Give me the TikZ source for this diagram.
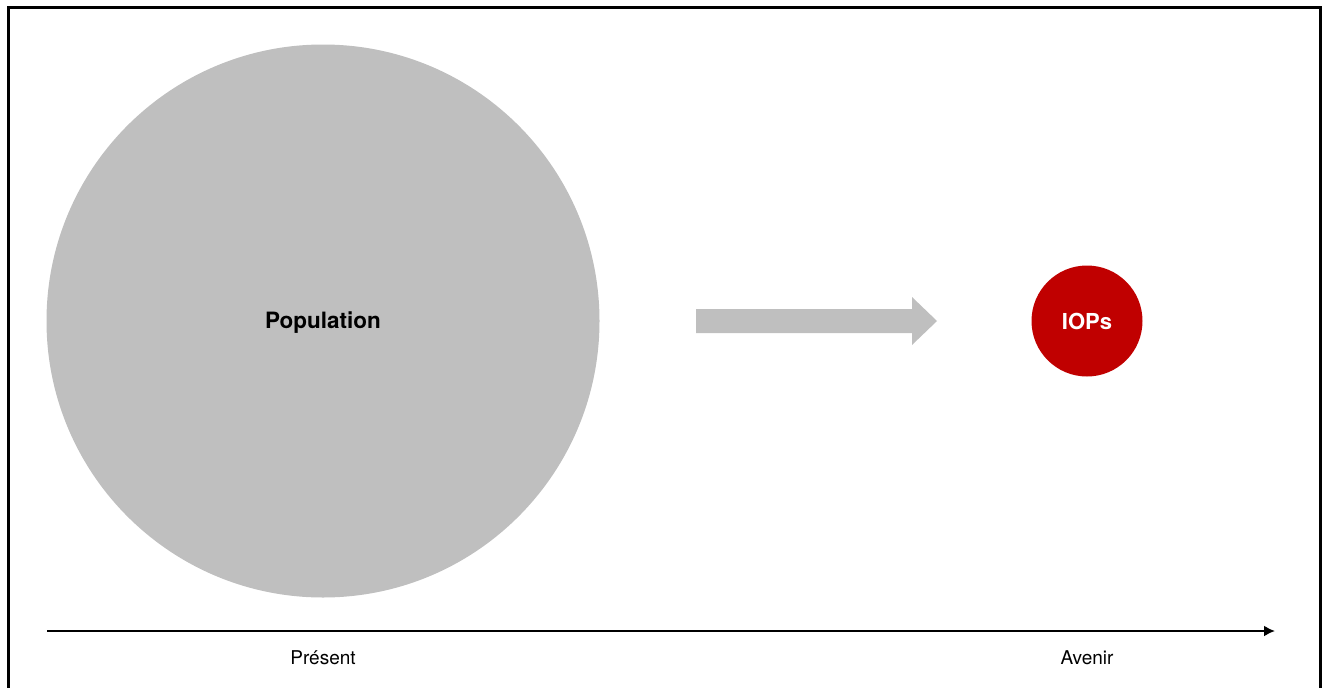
\documentclass[tikz,border=0pt]{standalone}
\usepackage{fontspec}
\setmainfont{TeX Gyre Heros}
\usepackage{xcolor}
\usetikzlibrary{arrows.meta}
\definecolor{popgray}{HTML}{BFBFBF}
\definecolor{iopred}{HTML}{C00000}

\begin{document}
\begin{tikzpicture}[x=1pt, y=-1pt,
  blob/.style={circle, inner sep=0pt},
  timelabel/.style={anchor=base, font=\fontsize{19}{22}\selectfont}]
\useasboundingbox (0,0) rectangle (1323,688);
%\draw [help lines] (0,0) grid (1323,688);
\draw [line width=3pt] (8.5,700) -- (8.5,7.5) -- (1320.5,7.5) -- (1320.5,700);
\node [blob, fill=popgray, minimum size=553pt] (pop) at (323,321) {};
\node [anchor=base, font=\bfseries\fontsize{22.5}{26}\selectfont] (poplabel) at (323,328) {Population};
\node [blob, fill=iopred, minimum size=111pt] (iop) at (1087,321) {};
\node [anchor=base, text=white, font=\bfseries\fontsize{22}{26}\selectfont] (ioplabel) at (1087,329) {IOPs};
\fill [popgray] (696,309) -- (912,309) -- (912,297) -- (937,321) -- (912,345) -- (912,333) -- (696,333) -- cycle;
\coordinate (tstart) at (47,631);
\coordinate (tend) at (1275,631);
\draw [line width=2pt, -{Latex[length=11pt,width=11pt]}] (tstart) -- (tend);
\node [timelabel] (present) at (323,664) {Présent};
\node [timelabel] (avenir) at (1087,664) {Avenir};
\end{tikzpicture}
\end{document}
